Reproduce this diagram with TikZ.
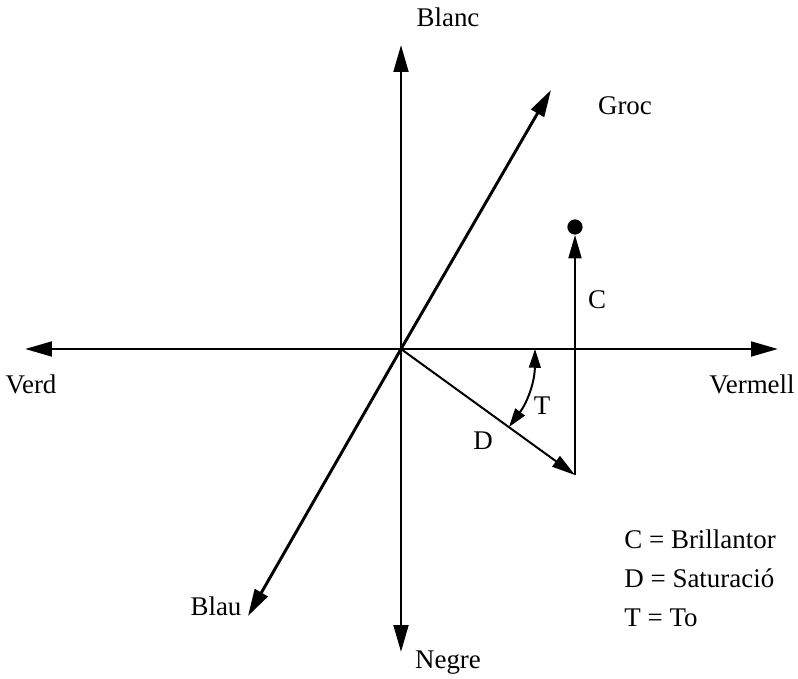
\documentclass[tikz,border=0pt]{standalone}
\usepackage{fontspec}
\setmainfont{Liberation Serif}
\usetikzlibrary{arrows.meta,calc}
\tikzset{
  axisline/.style={-{Triangle[length=23pt,width=12.5pt]},line width=2.5pt,black},
  vecline/.style={-{Triangle[length=20pt,width=11pt]},line width=1.7pt,black},
  anglearc/.style={{Triangle[length=16pt,width=10pt]}-{Triangle[length=16pt,width=10pt]},line width=1.7pt,black},
  lbl/.style={font=\fontsize{23}{27}\selectfont,inner sep=1pt},
}

\begin{document}
\begin{tikzpicture}[x=0.03cm,y=-0.03cm]
\useasboundingbox (0,0) rectangle (798,679);

% =================================================================
% axes
% =================================================================
\coordinate (O)     at (401,349);
\coordinate (top)   at (401,45);
\coordinate (bot)   at (401,652);
\coordinate (west)  at (25,349);
\coordinate (east)  at (778,349);
\coordinate (dtop)  at (551,90);
\coordinate (dbot)  at (248,616);

\foreach \a in {top, bot, west, east, dtop, dbot}
  \draw[axisline] (O) -- (\a);

\node[lbl] (blanc)   at (448,17)  {Blanc};
\node[lbl] (negre)   at (448,663) {Negre};
\node[lbl] (verd)    at (31,384)  {Verd};
\node[lbl] (vermell) at (752,384) {Vermell};
\node[lbl] (groc)    at (625,106) {Groc};
\node[lbl] (blau)    at (216,606) {Blau};

% =================================================================
% colour vector: D, C and T
% =================================================================
\coordinate (corner) at (575,475);
\node[circle,fill=black,inner sep=0pt,minimum size=13pt] (pt) at (575,227) {};

\draw[vecline] (O) -- (corner);
\draw[vecline] (corner) -- (pt.south);

\coordinate (t1) at (535,349);
\coordinate (t2) at (509,427);
\draw[anglearc] (t1) to[bend left=18] (t2);

\node[lbl] (cl) at (597,300) {C};
\node[lbl] (dl) at (483,441) {D};
\node[lbl] (tl) at (542,406) {T};

% legend
\node[lbl,anchor=west] (k1) at (623,539) {C = Brillantor};
\node[lbl,anchor=west] (k2) at (623,578) {D = Saturació};
\node[lbl,anchor=west] (k3) at (623,618) {T = To};

\end{tikzpicture}
\end{document}
